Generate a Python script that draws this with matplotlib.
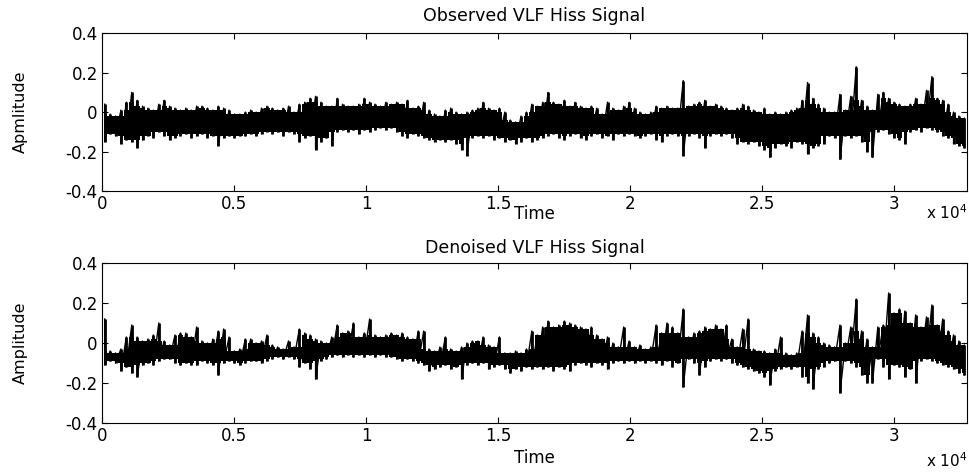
import numpy as np
import matplotlib
matplotlib.use("Agg")
import matplotlib.pyplot as plt

# valores: maximo e minimo do sinal em cada trecho (160 trechos de 0 a 32768)
n_amostras = 32768

obs_alto = [
    0.04, -0.01, -0.02, 0.01, 0.05, 0.10, 0.06, 0.03, 0.02, 0.01,
    0.04, 0.06, 0.03, 0.02, 0.01, 0.02, 0.01, 0.03, 0.03, 0.02,
    0.01, 0.03, 0.02, 0.01, -0.01, -0.01, 0.00, 0.01, 0.00, 0.02,
    0.03, 0.02, 0.01, 0.02, 0.03, 0.00, 0.04, 0.05, 0.07, 0.08,
    0.05, 0.03, 0.03, 0.07, 0.04, 0.03, 0.03, 0.04, 0.07, 0.05,
    0.04, 0.03, 0.05, 0.04, 0.05, 0.04, 0.06, 0.02, 0.03, 0.05,
    0.01, -0.01, -0.02, 0.01, 0.02, 0.00, -0.01, 0.00, 0.01, 0.02,
    0.05, 0.02, 0.01, 0.02, 0.00, -0.04, -0.05, -0.02, 0.00, 0.04,
    0.03, 0.05, 0.10, 0.05, 0.04, 0.06, 0.03, 0.05, 0.03, 0.02,
    0.03, 0.02, -0.01, 0.05, 0.02, 0.01, 0.03, 0.05, 0.02, 0.00,
    -0.01, 0.00, 0.03, 0.02, 0.03, 0.02, 0.02, 0.16, 0.03, 0.04,
    0.05, 0.06, 0.03, 0.04, 0.03, 0.02, 0.01, 0.02, 0.04, 0.03,
    0.01, 0.00, 0.02, -0.01, 0.00, -0.01, 0.00, 0.01, 0.02, 0.06,
    0.15, 0.07, 0.04, 0.02, 0.00, 0.00, 0.09, 0.01, 0.08, 0.23,
    0.06, 0.03, 0.01, 0.09, 0.10, 0.07, 0.05, 0.04, 0.03, 0.04,
    0.07, 0.04, 0.11, 0.18, 0.07, 0.06, 0.04, 0.00, -0.02, -0.03,
]
obs_baixo = [
    -0.15, -0.11, -0.12, -0.16, -0.14, -0.15, -0.18, -0.14, -0.12, -0.13,
    -0.10, -0.12, -0.14, -0.13, -0.12, -0.11, -0.13, -0.12, -0.11, -0.13,
    -0.12, -0.17, -0.13, -0.12, -0.13, -0.12, -0.12, -0.11, -0.12, -0.11,
    -0.10, -0.11, -0.10, -0.12, -0.10, -0.11, -0.15, -0.13, -0.12, -0.19,
    -0.15, -0.13, -0.17, -0.10, -0.09, -0.10, -0.09, -0.11, -0.09, -0.10,
    -0.09, -0.08, -0.09, -0.08, -0.10, -0.12, -0.13, -0.11, -0.12, -0.13,
    -0.14, -0.15, -0.14, -0.15, -0.14, -0.16, -0.19, -0.22, -0.13, -0.12,
    -0.13, -0.12, -0.14, -0.13, -0.15, -0.14, -0.16, -0.15, -0.13, -0.15,
    -0.14, -0.13, -0.12, -0.11, -0.13, -0.14, -0.12, -0.11, -0.13, -0.14,
    -0.12, -0.11, -0.13, -0.12, -0.14, -0.11, -0.12, -0.11, -0.12, -0.13,
    -0.12, -0.11, -0.14, -0.15, -0.12, -0.11, -0.12, -0.22, -0.12, -0.11,
    -0.13, -0.18, -0.12, -0.11, -0.12, -0.11, -0.13, -0.16, -0.15, -0.16,
    -0.15, -0.17, -0.19, -0.23, -0.18, -0.16, -0.17, -0.18, -0.15, -0.16,
    -0.21, -0.18, -0.17, -0.16, -0.12, -0.13, -0.24, -0.12, -0.13, -0.12,
    -0.15, -0.20, -0.23, -0.10, -0.09, -0.11, -0.13, -0.14, -0.16, -0.10,
    -0.09, -0.10, -0.08, -0.09, -0.10, -0.12, -0.13, -0.16, -0.17, -0.18,
]

den_alto = [
    0.12, -0.04, -0.05, -0.03, 0.03, 0.09, 0.03, 0.01, 0.02, 0.04,
    0.10, 0.01, -0.01, 0.04, 0.05, 0.05, 0.03, 0.08, 0.01, 0.00,
    0.02, 0.06, 0.07, 0.03, -0.04, -0.03, 0.02, 0.02, 0.00, 0.01,
    0.04, -0.01, -0.02, -0.03, 0.01, -0.02, 0.07, 0.05, 0.04, 0.02,
    0.01, 0.00, 0.03, 0.09, 0.05, 0.06, 0.10, 0.03, 0.05, 0.12,
    0.04, 0.03, 0.04, 0.05, 0.04, 0.05, 0.03, 0.02, 0.06, 0.06,
    -0.03, -0.04, -0.02, 0.03, -0.03, -0.04, -0.02, 0.00, 0.01, 0.01,
    0.03, -0.01, -0.02, 0.03, -0.05, -0.05, -0.04, -0.05, -0.03, 0.06,
    0.04, 0.08, 0.11, 0.08, 0.09, 0.11, 0.10, 0.09, 0.08, 0.07,
    0.08, 0.04, 0.02, 0.03, 0.00, -0.02, 0.08, 0.01, -0.02, -0.01,
    -0.03, -0.02, 0.09, 0.05, 0.10, 0.08, 0.05, 0.17, 0.03, 0.05,
    0.06, 0.08, 0.07, 0.09, 0.07, 0.09, 0.02, -0.02, 0.07, 0.12,
    -0.03, -0.04, -0.04, -0.05, -0.03, 0.03, -0.05, -0.06, -0.05, 0.06,
    0.14, 0.05, 0.03, 0.00, -0.01, -0.02, 0.09, 0.00, 0.08, 0.22,
    0.06, 0.02, -0.02, 0.08, 0.09, 0.25, 0.15, 0.17, 0.16, 0.10,
    0.14, 0.08, 0.13, 0.19, 0.09, 0.12, 0.06, 0.04, 0.01, -0.01,
]
den_baixo = [
    -0.11, -0.09, -0.10, -0.14, -0.12, -0.15, -0.17, -0.11, -0.10, -0.11,
    -0.09, -0.08, -0.08, -0.10, -0.11, -0.10, -0.11, -0.11, -0.09, -0.10,
    -0.11, -0.16, -0.10, -0.09, -0.10, -0.11, -0.10, -0.09, -0.09, -0.10,
    -0.09, -0.08, -0.07, -0.08, -0.07, -0.08, -0.12, -0.10, -0.13, -0.18,
    -0.09, -0.08, -0.07, -0.06, -0.07, -0.06, -0.07, -0.06, -0.07, -0.06,
    -0.07, -0.06, -0.07, -0.07, -0.08, -0.09, -0.08, -0.09, -0.10, -0.11,
    -0.14, -0.13, -0.12, -0.11, -0.13, -0.12, -0.18, -0.11, -0.10, -0.11,
    -0.10, -0.13, -0.12, -0.11, -0.13, -0.15, -0.13, -0.14, -0.12, -0.13,
    -0.12, -0.13, -0.12, -0.14, -0.12, -0.13, -0.14, -0.11, -0.10, -0.11,
    -0.12, -0.10, -0.11, -0.13, -0.10, -0.09, -0.10, -0.09, -0.10, -0.09,
    -0.10, -0.09, -0.10, -0.11, -0.09, -0.12, -0.10, -0.22, -0.08, -0.10,
    -0.16, -0.12, -0.09, -0.08, -0.09, -0.08, -0.10, -0.11, -0.12, -0.13,
    -0.14, -0.15, -0.17, -0.21, -0.14, -0.13, -0.12, -0.13, -0.12, -0.17,
    -0.20, -0.23, -0.13, -0.12, -0.10, -0.09, -0.25, -0.09, -0.10, -0.12,
    -0.16, -0.20, -0.20, -0.08, -0.12, -0.18, -0.11, -0.12, -0.17, -0.13,
    -0.20, -0.09, -0.08, -0.09, -0.10, -0.11, -0.12, -0.13, -0.15, -0.16,
]

titulos = ["Observed VLF Hiss Signal", "Denoised VLF Hiss Signal"]
rotulos_y = ["Apmlitude", "Amplitude"]
ticks_x = [0, 5000, 10000, 15000, 20000, 25000, 30000]
rotulos_x = ["0", "0.5", "1", "1.5", "2", "2.5", "3"]
ticks_y = [-0.4, -0.2, 0, 0.2, 0.4]
rotulos_ticks_y = ["-0.4", "-0.2", "0", "0.2", "0.4"]


def main():
    plt.rcParams['font.family'] = ['DejaVu Sans']
    fig = plt.figure(figsize=(9.69, 4.74), dpi=100)
    ax1 = fig.add_axes([0.1053, 0.597, 0.8927, 0.333])
    ax2 = fig.add_axes([0.1053, 0.1076, 0.8927, 0.3376])

    series = [(obs_alto, obs_baixo), (den_alto, den_baixo)]
    pads_titulo = [9, 7]
    pads_time = [-6, 3]
    y_expoente = [-0.135, -0.235]
    for i, ax in enumerate([ax1, ax2]):
        alto = np.array(series[i][0])
        baixo = np.array(series[i][1])
        m = len(alto)
        t = (np.arange(m) + 0.5) * n_amostras / m
        # nucleo da faixa: parte comum com os trechos vizinhos
        a_pad = np.concatenate([[alto[0]], alto, [alto[-1]]])
        b_pad = np.concatenate([[baixo[0]], baixo, [baixo[-1]]])
        nucleo_alto = np.minimum(np.minimum(a_pad[:-2], a_pad[1:-1]), a_pad[2:])
        nucleo_baixo = np.maximum(np.maximum(b_pad[:-2], b_pad[1:-1]), b_pad[2:])
        ax.fill_between(t, nucleo_baixo, nucleo_alto, step='mid',
                        color='black', linewidth=0)
        # pontas do sinal
        ax.vlines(t, baixo, alto, color='black', linewidth=2.0)
        tz = np.repeat(t, 2)
        yz = np.ravel(np.column_stack([alto, baixo]))
        ax.plot(tz, yz, color='black', linewidth=1.0)
        ax.set_xlim(0, n_amostras)
        ax.set_ylim(-0.4, 0.4)
        ax.set_xticks(ticks_x)
        ax.set_xticklabels(rotulos_x)
        ax.set_yticks(ticks_y)
        ax.set_yticklabels(rotulos_ticks_y)
        ax.tick_params(direction='in', length=4, top=True, right=True,
                       labelsize=12, pad=3, width=0.8)
        for s in ax.spines.values():
            s.set_linewidth(0.8)
        ax.set_title(titulos[i], fontsize=12.5, pad=pads_titulo[i])
        ax.set_xlabel("Time", fontsize=12, labelpad=pads_time[i])
        ax.set_ylabel(rotulos_y[i], fontsize=11.5)
        ax.yaxis.set_label_coords(-0.086, 0.5)
        ax.text(1.0, y_expoente[i], r"x 10$^4$", transform=ax.transAxes,
                ha='right', va='center', fontsize=11)

    fig.savefig("out.png", dpi=100)


if __name__ == "__main__":
    main()
